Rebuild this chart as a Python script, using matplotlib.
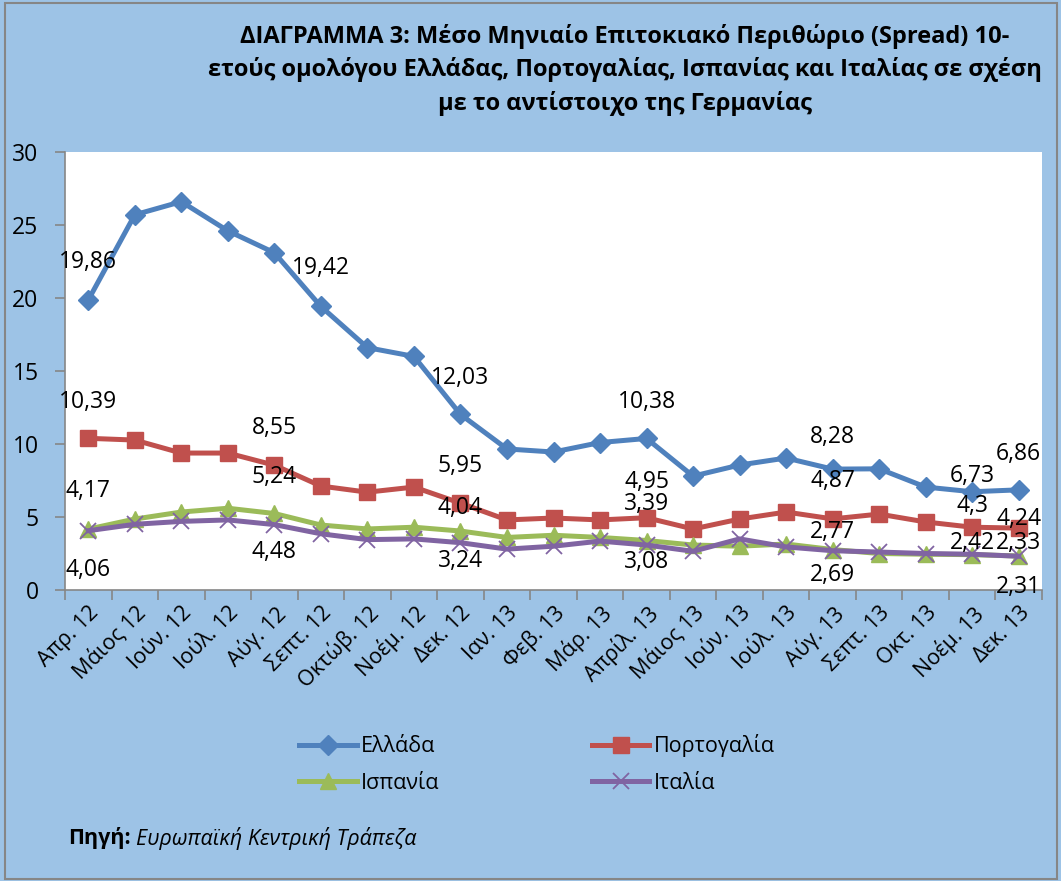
import matplotlib

matplotlib.use("Agg")
import matplotlib.pyplot as plt
import matplotlib.transforms as mtransforms
import numpy as np
from matplotlib.patches import Rectangle

plt.rcParams["font.family"] = ["Open Sans", "DejaVu Sans"]

BACKGROUND = "#9dc3e6"
AXIS = "#868686"
INK = "#000000"

months = [
    "Απρ. 12", "Μάιος 12", "Ιούν. 12", "Ιούλ. 12", "Αύγ. 12", "Σεπτ. 12",
    "Οκτώβ. 12", "Νοέμ. 12", "Δεκ. 12", "Ιαν. 13", "Φεβ. 13", "Μάρ. 13",
    "Απρίλ. 13", "Μάιος 13", "Ιούν. 13", "Ιούλ. 13", "Αύγ. 13", "Σεπτ. 13",
    "Οκτ. 13", "Νοέμ. 13", "Δεκ. 13",
]

greece = [19.86, 25.7, 26.6, 24.6, 23.1, 19.42, 16.6, 16.0, 12.03, 9.66, 9.45,
          10.1, 10.38, 7.8, 8.56, 9.04, 8.28, 8.3, 7.05, 6.73, 6.86]
portugal = [10.39, 10.27, 9.38, 9.38, 8.55, 7.12, 6.7, 7.05, 5.95, 4.8, 4.93,
            4.8, 4.95, 4.18, 4.86, 5.34, 4.87, 5.2, 4.66, 4.3, 4.24]
spain = [4.17, 4.86, 5.34, 5.6, 5.24, 4.45, 4.18, 4.3, 4.04, 3.6, 3.75,
         3.6, 3.39, 3.08, 3.0, 3.15, 2.77, 2.5, 2.45, 2.42, 2.33]
italy = [4.06, 4.5, 4.7, 4.8, 4.48, 3.85, 3.45, 3.5, 3.24, 2.8, 3.0,
         3.35, 3.08, 2.65, 3.5, 2.95, 2.69, 2.6, 2.5, 2.45, 2.31]

series_names = ["Ελλάδα", "Πορτογαλία", "Ισπανία", "Ιταλία"]

# which points carry a value label, with the vertical offset in pixels
label_points = {
    "Ελλάδα": [(0, 38), (5, 38), (8, 36), (12, 36), (16, 32), (19, 16), (20, 36)],
    "Πορτογαλία": [(0, 36), (4, 37), (8, 37), (12, 36), (16, 38), (19, 21), (20, 9)],
    "Ισπανία": [(0, 38), (4, 36), (8, 23), (12, 37), (16, 18), (19, 12), (20, 13)],
    "Ιταλία": [(0, -39), (4, -27), (8, -18), (12, -17), (16, -24), (20, -31)],
}

STYLE = {
    "Ελλάδα": dict(color="#4f81bd", marker="D", markersize=10.5),
    "Πορτογαλία": dict(color="#c0504d", marker="s", markersize=12),
    "Ισπανία": dict(color="#9bbb59", marker="^", markersize=12),
    "Ιταλία": dict(color="#8064a2", marker="x", markersize=12, markeredgewidth=1.3),
}

W, H = 1061, 881
fig = plt.figure(figsize=(W / 100, H / 100), dpi=100, facecolor=BACKGROUND)
ax = fig.add_axes([65 / W, 1 - 590 / H, 977 / W, 438 / H])
ax.set_facecolor("white")

x = np.arange(len(months))
values = dict(zip(series_names, [greece, portugal, spain, italy]))
handles = {}
for name in series_names:
    (line,) = ax.plot(x, values[name], linewidth=3.6, label=name, **STYLE[name])
    handles[name] = line
    for index, dy in label_points[name]:
        v = values[name][index]
        ax.annotate(
            f"{v:g}".replace(".", ","),
            xy=(index, v),
            xytext=(0, dy * 0.72),
            textcoords="offset points",
            ha="center",
            va="center",
            fontsize=16.5,
            color=INK,
        )

ax.set_xlim(-0.5, len(months) - 0.5)
ax.set_ylim(0, 30)
ax.set_yticks(range(0, 31, 5))
ax.set_xticks(x)
ax.set_xticklabels(months, rotation=45, ha="right", va="top", rotation_mode="anchor")
shift = mtransforms.ScaledTranslation(-0.12, 0, fig.dpi_scale_trans)
for label in ax.get_xticklabels():
    label.set_transform(label.get_transform() + shift)
ax.set_xticks(np.arange(-0.5, len(months)), minor=True)
ax.tick_params(axis="x", which="major", length=0, pad=9, labelsize=15.5, labelcolor=INK)
ax.tick_params(axis="x", which="minor", length=7, color=AXIS, width=1.2)
ax.tick_params(axis="y", length=7, color=AXIS, width=1.2, pad=12, labelsize=16.5, labelcolor=INK)
for side in ("top", "right"):
    ax.spines[side].set_visible(False)
for side in ("left", "bottom"):
    ax.spines[side].set_color(AXIS)
    ax.spines[side].set_linewidth(1.2)

fig.text(
    625 / W,
    1 - 70 / H,
    "ΔΙΑΓΡΑΜΜΑ 3: Μέσο Μηνιαίο Επιτοκιακό Περιθώριο (Spread) 10-\n"
    "ετούς ομολόγου Ελλάδας, Πορτογαλίας, Ισπανίας και Ιταλίας σε σχέση\n"
    "με το αντίστοιχο της Γερμανίας",
    ha="center",
    va="center",
    fontsize=17,
    fontweight="bold",
    linespacing=1.45,
    color=INK,
)

order = ["Ελλάδα", "Ισπανία", "Πορτογαλία", "Ιταλία"]
fig.legend(
    [handles[n] for n in order],
    order,
    ncol=2,
    loc="center",
    bbox_to_anchor=(537 / W, 1 - 764 / H),
    frameon=False,
    fontsize=15.5,
    handlelength=2.65,
    handletextpad=0.2,
    columnspacing=7.1,
    labelspacing=0.7,
)

fig.text(68 / W, 1 - 838 / H, "Πηγή:", fontsize=15.5, fontweight="bold", va="center", color=INK)
fig.text(136 / W, 1 - 838 / H, "Ευρωπαϊκή Κεντρική Τράπεζα", fontsize=15.5,
         fontstyle="italic", va="center", color=INK)

fig.patches.append(
    Rectangle((5 / W, 2 / H), 1 - 9 / W, 1 - 5 / H, transform=fig.transFigure,
              fill=False, edgecolor=AXIS, linewidth=1.5)
)

fig.savefig("out.png", dpi=100, facecolor=BACKGROUND)
